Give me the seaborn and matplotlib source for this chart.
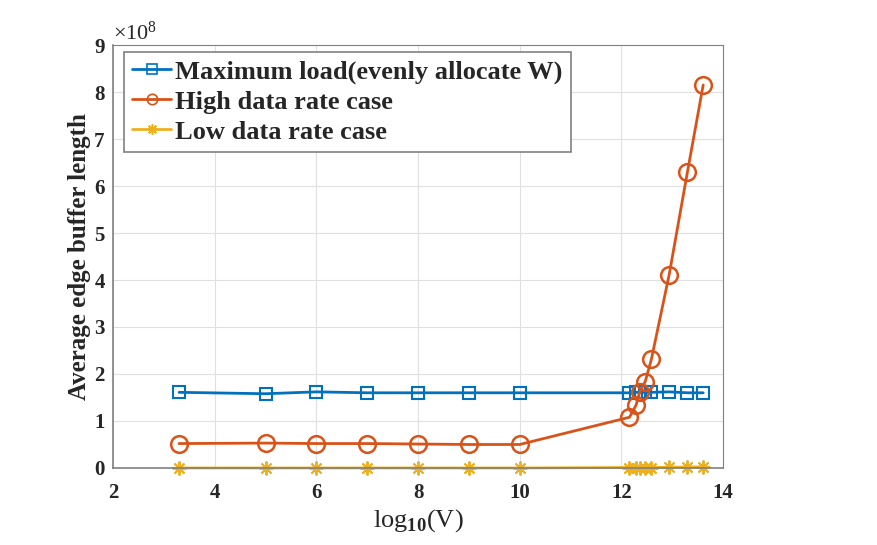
import numpy as np
import pandas as pd
import matplotlib
matplotlib.use("Agg")
import matplotlib.pyplot as plt
import seaborn as sns

# data
x_vals = [3.30, 5.0, 6.0, 7.0, 8.0, 9.0, 10.0, 12.16, 12.29, 12.36, 12.47, 12.59, 12.94, 13.30, 13.61]
max_load = [1.61, 1.58, 1.62, 1.60, 1.60, 1.60, 1.60, 1.60, 1.61, 1.61, 1.61, 1.61, 1.62, 1.60, 1.60]
high_rate = [0.52, 0.53, 0.52, 0.52, 0.51, 0.50, 0.50, 1.08, 1.34, 1.61, 1.84, 2.31, 4.11, 6.30, 8.15]
low_rate = [0.00, 0.00, 0.00, 0.00, 0.00, 0.00, 0.00, 0.01, 0.01, 0.01, 0.01, 0.01, 0.015, 0.02, 0.025]
labels = ["Maximum load(evenly allocate W)", "High data rate case", "Low data rate case"]
colors = ["#0072BD", "#D95319", "#EDB120"]

sns.set_style("white")
plt.rcParams['font.family'] = ['Liberation Serif', 'DejaVu Serif']
plt.rcParams['mathtext.fontset'] = 'custom'
plt.rcParams['mathtext.rm'] = 'Liberation Serif'
plt.rcParams['mathtext.bf'] = 'Liberation Serif:bold'

fig = plt.figure(figsize=(8.78, 5.45), dpi=100)
ax = fig.add_axes([0.1287, 0.1413, 0.6948, 0.7761])

scale = 1e8
df = pd.DataFrame({"x": x_vals,
                   "a": np.array(max_load) * scale,
                   "b": np.array(high_rate) * scale,
                   "c": np.array(low_rate) * scale})

sns.lineplot(data=df, x="x", y="a", ax=ax, color=colors[0], marker='s', markersize=8.5,
             markerfacecolor='none', markeredgecolor=colors[0], markeredgewidth=1.5,
             linewidth=2, label=labels[0], sort=False, clip_on=False)
sns.lineplot(data=df, x="x", y="b", ax=ax, color=colors[1], marker='o', markersize=12,
             markerfacecolor='none', markeredgecolor=colors[1], markeredgewidth=1.8,
             linewidth=2, label=labels[1], sort=False, clip_on=False)
sns.lineplot(data=df, x="x", y="c", ax=ax, color=colors[2], marker=(8, 2, 0), markersize=10,
             markeredgecolor=colors[2], markeredgewidth=1.4,
             linewidth=2, label=labels[2], sort=False, clip_on=False)

ax.set_xlim(2, 14)
ax.set_ylim(0, 9e8)
ax.set_xticks([2, 4, 6, 8, 10, 12, 14])
ax.set_yticks(np.arange(0, 10) * 1e8)
ax.set_yticklabels([str(i) for i in range(10)])
ax.grid(True, color='#e0e0e0', linewidth=0.8)
ax.set_axisbelow(True)
spine_col = '#808080'
for side in ['left', 'bottom', 'top', 'right']:
    ax.spines[side].set_color(spine_col)
    ax.spines[side].set_linewidth(1.2 if side in ('left', 'bottom') else 0.8)
ax.tick_params(axis='both', which='both', direction='in', length=4, color='#404040',
               labelcolor='#262626', labelsize=15, top=False, right=False)
ax.tick_params(axis='y', pad=6)
ax.tick_params(axis='x', pad=11)
for lab in ax.get_xticklabels() + ax.get_yticklabels():
    lab.set_fontweight('bold')

ax.set_xlabel(r'$\mathregular{log}_{\mathbf{10}}\mathregular{(V)}$', fontsize=19, labelpad=3)
ax.set_ylabel('Average edge buffer length', fontsize=18, fontweight='bold', labelpad=2,
              color='#262626')
ax.text(0.0, 1.0, r'$\times\mathregular{10^{8}}$', transform=ax.transAxes,
        fontsize=16, ha='left', va='bottom', color='#262626')

leg = ax.legend(loc='upper left', bbox_to_anchor=(0.018, 0.984), fancybox=False, framealpha=1,
                edgecolor=spine_col, prop={'family': 'Liberation Serif', 'weight': 'bold', 'size': 19},
                handlelength=1.5, handletextpad=0.15, borderpad=0.3, labelspacing=0.25,
                borderaxespad=0)
leg.get_frame().set_linewidth(1.2)
for line in leg.get_lines():
    line.set_markersize(7.5)
    line.set_markeredgewidth(1.2)

fig.savefig("out.png", dpi=100)
